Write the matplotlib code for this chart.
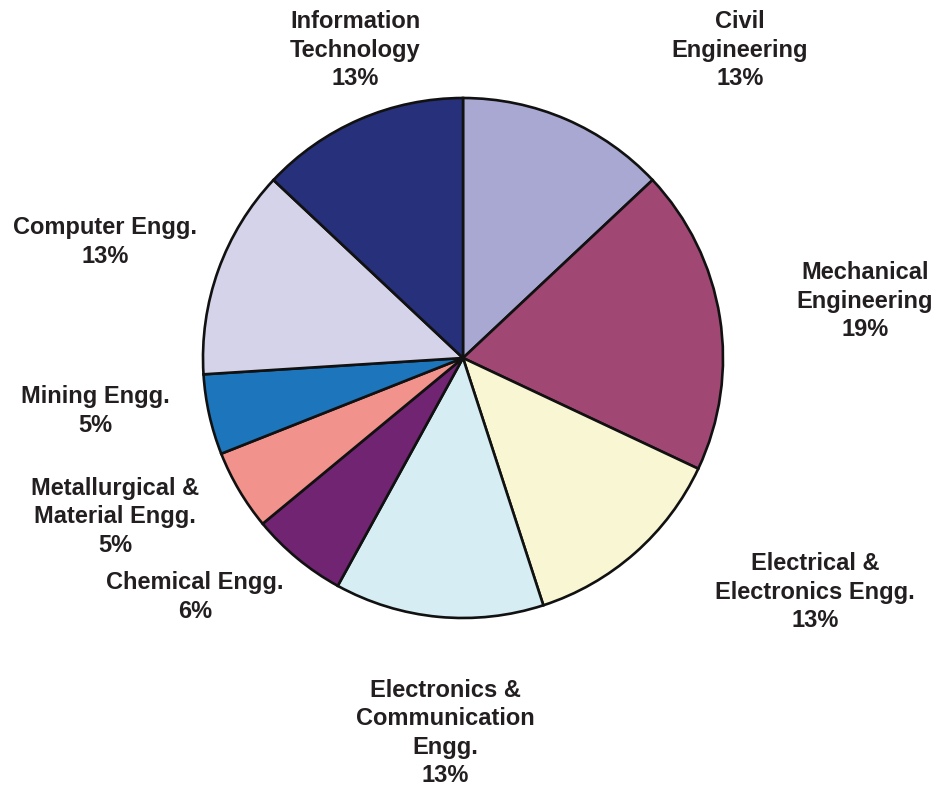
import matplotlib.pyplot as plt

# slice order: clockwise from 12 o'clock
labels = ['Civil\nEngineering', 'Mechanical\nEngineering',
          'Electrical &\nElectronics Engg.', 'Electronics &\nCommunication\nEngg.',
          'Chemical Engg.', 'Metallurgical &\nMaterial Engg.', 'Mining Engg.',
          'Computer Engg.', 'Information\nTechnology']
shares = [13, 19, 13, 13, 6, 5, 5, 13, 13]
colors = ['#A9A8D3', '#A04873', '#F9F7D3', '#D6EDF3', '#702472',
          '#F2928C', '#1D75BC', '#D5D3E9', '#27307B']

# label centres in pixel coordinates (from top-left)
label_pos = [(740, 50), (865, 301), (815, 592), (445, 733), (195, 597),
             (115, 517), (95, 411), (105, 242), (355, 50)]

W, H = 939, 789
fig = plt.figure(figsize=(W / 100, H / 100), dpi=100)
ax = fig.add_axes([0, 0, 1, 1])

ax.pie(shares, colors=colors, startangle=90, counterclock=False,
       center=(463, H - 358), radius=260, frame=True,
       wedgeprops=dict(edgecolor='#111111', linewidth=1.9))
ax.set_xlim(0, W)
ax.set_ylim(0, H)
ax.set_aspect('equal')
ax.axis('off')

for lab, s, (x, y) in zip(labels, shares, label_pos):
    ax.text(x, H - y, f'{lab}\n{s}%', ha='center', va='center',
            fontsize=17, fontweight='bold', family='Liberation Sans',
            color='#231F20', linespacing=1.3)

fig.savefig('out.png', dpi=100)
